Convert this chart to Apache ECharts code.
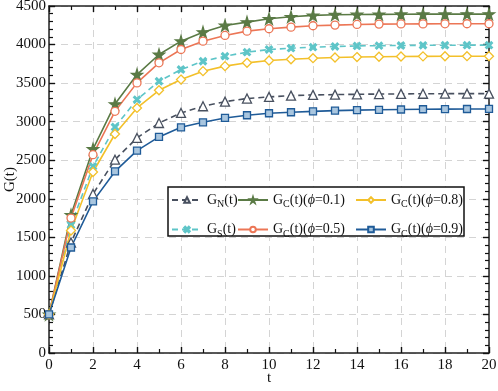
<!DOCTYPE html>
<html>
<head>
<meta charset="utf-8">
<script src="https://cdn.jsdelivr.net/npm/echarts@6/dist/echarts.min.js"></script>
<style>
    html, body { margin: 0; padding: 0; background: #fff; }
    #chart { width: 498px; height: 391px; }
</style>
</head>
<body>
<div id="chart"></div>
<script>
// time steps
const t = [0, 1, 2, 3, 4, 5, 6, 7, 8, 9, 10, 11, 12, 13, 14, 15, 16, 17, 18, 19, 20];

// values
const gN = [500, 1433, 2061, 2507, 2789, 2983, 3113, 3200, 3260, 3300, 3321, 3338, 3347, 3351, 3355, 3358, 3360, 3362, 3363, 3364, 3364];
const gS = [500, 1660, 2420, 2931, 3286, 3524, 3676, 3784, 3849, 3901, 3936, 3953, 3966, 3975, 3982, 3986, 3988, 3990, 3991, 3992, 3992];
const gC1 = [500, 1790, 2645, 3228, 3611, 3871, 4044, 4161, 4248, 4291, 4334, 4360, 4378, 4387, 4390, 4392, 4393, 4394, 4394, 4395, 4395];
const gC5 = [500, 1750, 2572, 3134, 3503, 3763, 3936, 4044, 4118, 4174, 4205, 4226, 4244, 4252, 4261, 4265, 4267, 4268, 4269, 4270, 4270];
const gC8 = [500, 1589, 2347, 2840, 3178, 3407, 3546, 3655, 3720, 3763, 3793, 3810, 3823, 3832, 3838, 3842, 3845, 3847, 3848, 3849, 3849];
const gC9 = [500, 1368, 1966, 2355, 2624, 2802, 2927, 2992, 3048, 3083, 3109, 3122, 3134, 3143, 3150, 3154, 3158, 3161, 3163, 3164, 3165];

const names = ["G_N(t)", "G_S(t)", "G_C(t)(ϕ=0.1)", "G_C(t)(ϕ=0.5)", "G_C(t)(ϕ=0.8)", "G_C(t)(ϕ=0.9)"];

const starPath = "path://M50,0 L61,35 L98,35 L68,57 L79,91 L50,70 L21,91 L32,57 L2,35 L39,35 Z";
const crossPath = "path://M0,18 L18,0 L50,32 L82,0 L100,18 L68,50 L100,82 L82,100 L50,68 L18,100 L0,82 L32,50 Z";

const serif = "Liberation Serif, Times New Roman, serif";

function pairs(vals) {
    return t.map((x, i) => [x, vals[i]]);
}

// "G_N(t)" -> rich text with subscript
function fmt(name) {
    let m = name.match(/^G_(\w)\(t\)(.*)$/);
    let s = "{m|G}{s|" + m[1] + "}{m|(t)}";
    if (m[2]) {
        let p = m[2].replace("(ϕ=", "").replace(")", "");
        s += "{m|(}{i|ϕ}{m|=" + p + ")}";
    }
    return s;
}

function line(name, vals, color, symbol, size, dashed, fill) {
    return {
        name: name,
        type: "line",
        data: pairs(vals),
        symbol: symbol,
        symbolSize: size,
        showAllSymbol: true,
        lineStyle: { color: color, width: 1.6, type: dashed ? [6, 4] : "solid" },
        itemStyle: { color: fill, borderColor: color, borderWidth: 1.3 },
        z: 3,
    };
}

const legendText = {
    fontFamily: serif,
    fontSize: 14,
    color: "#111",
    rich: {
        m: { fontFamily: serif, fontSize: 14, color: "#111" },
        i: { fontFamily: serif, fontSize: 14, fontStyle: "italic", color: "#111" },
        s: { fontFamily: serif, fontSize: 10, color: "#111", padding: [9, 0, 0, 0] },
    },
};

function legend(left, data) {
    return {
        orient: "vertical",
        left: left,
        top: 193,
        z: 20,
        itemWidth: 30,
        itemHeight: 7,
        itemGap: 13,
        padding: 0,
        data: data,
        formatter: fmt,
        textStyle: legendText,
    };
}

function axis(extra) {
    return Object.assign({
        type: "value",
        axisLine: { show: true, onZero: false, lineStyle: { color: "#222", width: 1.5 } },
        axisTick: { show: true, inside: true, length: 6, lineStyle: { color: "#111", width: 1.4 } },
        splitLine: { show: false },
    }, extra);
}

const labelStyle = {
    fontFamily: serif,
    fontSize: 15,
    color: "#111",
    formatter: (v) => String(v),
};
const gridLine = { show: true, lineStyle: { color: "#d4d4d4", type: [7, 5], width: 1 } };

let chart = echarts.init(document.getElementById("chart"));
chart.setOption({
    animation: false,
    backgroundColor: "#fff",
    grid: { left: 49, right: 9, top: 6, bottom: 38, outerBoundsMode: "none" },
    legend: [
        legend(171, [names[0], names[1]]),
        legend(237, [names[2], names[3]]),
        legend(355, [names[4], names[5]]),
    ],
    graphic: [
        {
            type: "rect",
            shape: { x: 168, y: 187, width: 296, height: 49 },
            style: { fill: "#fff", stroke: "#111", lineWidth: 1.5 },
            z: 10,
        },
    ],
    xAxis: [
        axis({
            min: 0,
            max: 20,
            interval: 2,
            minorTick: { show: true, splitNumber: 2, length: 4, lineStyle: { color: "#111", width: 1.2 } },
            name: "t",
            nameLocation: "middle",
            nameGap: 18,
            nameMoveOverlap: false,
            nameTextStyle: { fontFamily: serif, fontSize: 15, color: "#111" },
            axisLabel: Object.assign({ margin: 5 }, labelStyle),
            splitLine: gridLine,
        }),
        axis({
            position: "top",
            min: 0,
            max: 20,
            interval: 2,
            minorTick: { show: true, splitNumber: 2, length: 4, lineStyle: { color: "#111", width: 1.2 } },
            axisLabel: { show: false },
        }),
    ],
    yAxis: [
        axis({
            min: 0,
            max: 4500,
            interval: 500,
            minorTick: { show: true, splitNumber: 5, length: 4, lineStyle: { color: "#111", width: 1.2 } },
            name: "G(t)",
            nameLocation: "middle",
            nameGap: 31,
            nameMoveOverlap: false,
            nameTextStyle: { fontFamily: serif, fontSize: 15, color: "#111" },
            axisLabel: Object.assign({ margin: 3 }, labelStyle),
            splitLine: gridLine,
        }),
        axis({
            position: "right",
            min: 0,
            max: 4500,
            interval: 500,
            minorTick: { show: true, splitNumber: 5, length: 4, lineStyle: { color: "#111", width: 1.2 } },
            axisLabel: { show: false },
        }),
    ],
    series: [
        line(names[0], gN, "#48505f", "triangle", 9, true, "#fff"),
        line(names[1], gS, "#5ec5c8", crossPath, 7, true, "#5ec5c8"),
        line(names[2], gC1, "#5a7a45", starPath, 11, false, "#5a7a45"),
        line(names[3], gC5, "#ec7656", "circle", 8, false, "#fff"),
        line(names[4], gC8, "#f3c02a", "diamond", 9, false, "#fff"),
        line(names[5], gC9, "#1f5b98", "rect", 7, false, "#a9c6df"),
    ],
});
</script>
</body>
</html>
